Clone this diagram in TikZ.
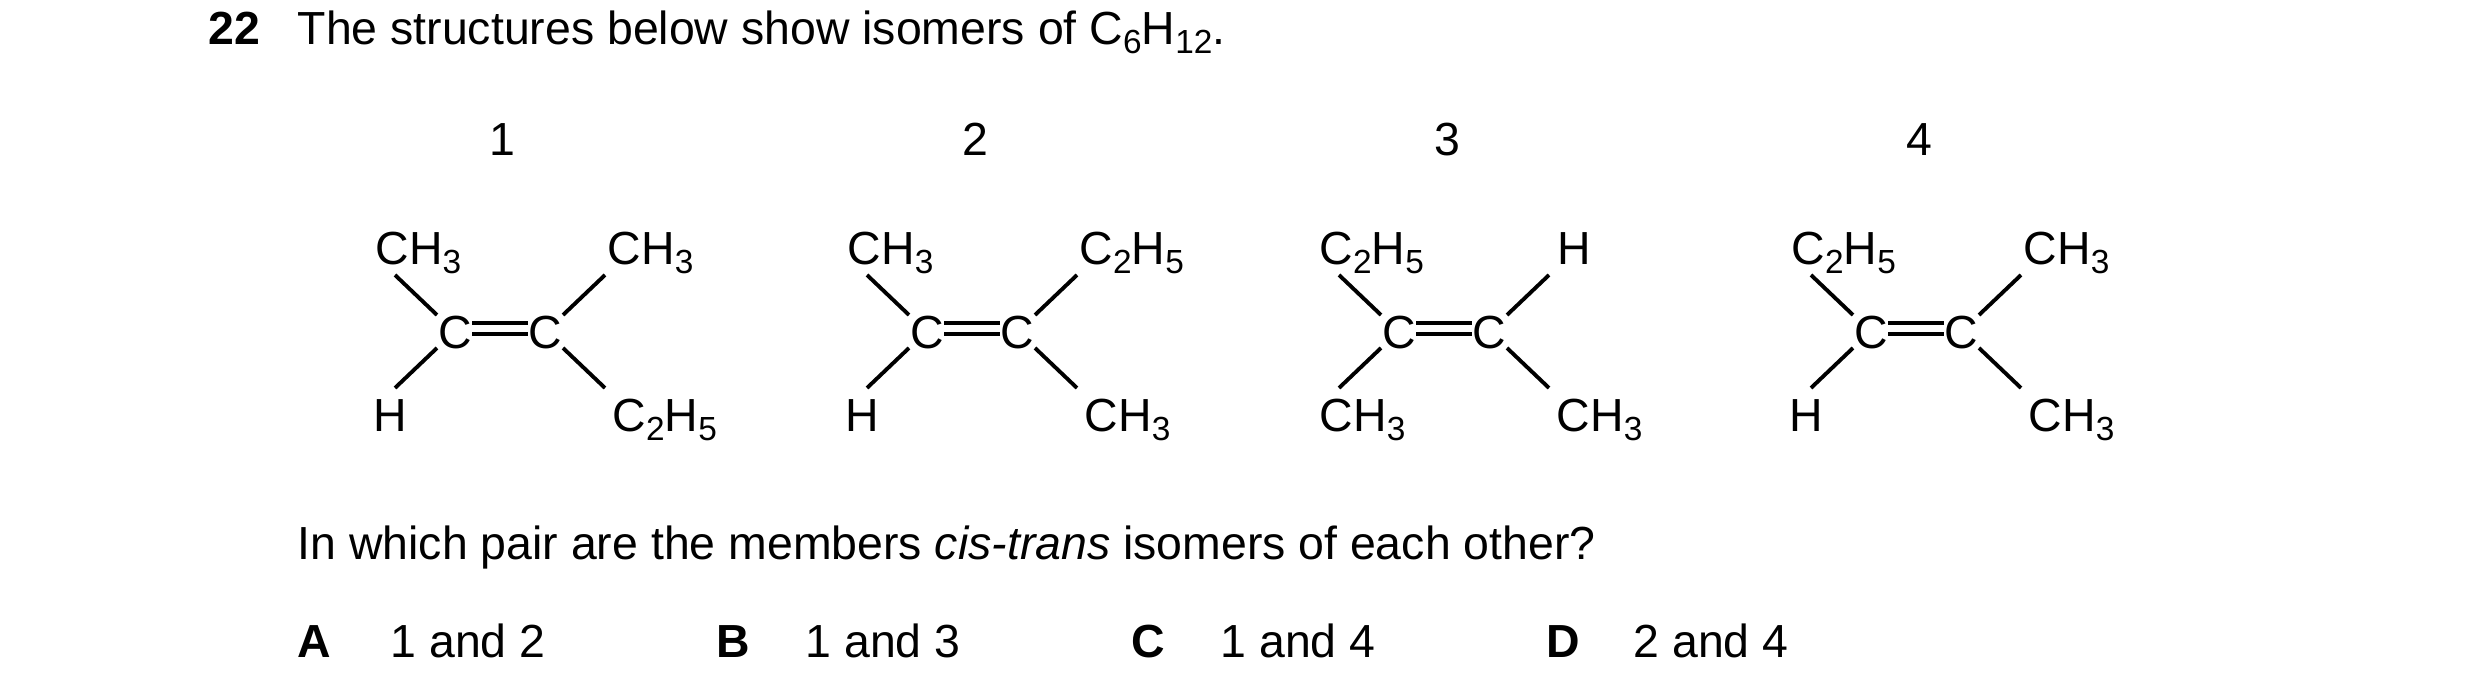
\documentclass[tikz,border=0pt]{standalone}
\usepackage{fontspec}
\setmainfont{Liberation Sans}
\newcommand{\sbs}[1]{\raisebox{-0.35ex}{\fontsize{9.5}{10}\selectfont #1}}
\newcommand{\CHiii}{CH\sbs{3}}
\newcommand{\CCH}{C\sbs{2}H\sbs{5}}
\newcommand{\molec}[6]{%
 \begin{scope}[shift={(#1,0)}]
  \node[atom] (#2cl) at (-45,332) {C};
  \node[atom] (#2cr) at (45,332) {C};
  \draw[bond] ([yshift=2.5pt]#2cl.east) -- ([yshift=2.5pt]#2cr.west);
  \draw[bond] ([yshift=-0.5pt]#2cl.east) -- ([yshift=-0.5pt]#2cr.west);
  \draw[bond] (-105,275) -- (-63,315);
  \draw[bond] (-105,388) -- (-63,348);
  \draw[bond] (105,275) -- (63,315);
  \draw[bond] (105,388) -- (63,348);
  #3 #4 #5 #6
 \end{scope}}
\newcommand{\LT}[1]{\node[lab,anchor=base west] at (-125,265) {#1};}
\newcommand{\LB}[1]{\node[lab,anchor=base west] at (-125,432) {#1};}
\newcommand{\LBH}{\node[lab,anchor=base] at (-110,432) {H};}
\newcommand{\RT}[1]{\node[lab,anchor=base west] at (107,265) {#1};}
\newcommand{\RTH}{\node[lab,anchor=base] at (130,265) {H};}
\newcommand{\RB}[1]{\node[lab,anchor=base west] at (112,432) {#1};}
\begin{document}
\begin{tikzpicture}[x=0.01cm,y=-0.01cm,
 txt/.style={inner sep=0pt,font=\fontsize{13.2}{16}\selectfont},
 lab/.style={txt},
 atom/.style={txt,text depth=0pt,anchor=center},
 bond/.style={line width=1.1pt,line cap=butt}]
\useasboundingbox (0,0) rectangle (2480,692);
\node[txt,anchor=base west] (num) at (208,45) {\textbf{22}};
\node[txt,anchor=base west] (title) at (297,45) {The structures below show isomers of C\sbs{6}H\sbs{12}.};
\node[txt,anchor=base] (n1) at (502,156) {1};
\node[txt,anchor=base] (n2) at (975,156) {2};
\node[txt,anchor=base] (n3) at (1447,156) {3};
\node[txt,anchor=base] (n4) at (1919,156) {4};
\molec{500}{a}{\LT{\CHiii}}{\LBH}{\RT{\CHiii}}{\RB{\CCH}}
\molec{972}{b}{\LT{\CHiii}}{\LBH}{\RT{\CCH}}{\RB{\CHiii}}
\molec{1444}{c}{\LT{\CCH}}{\LB{\CHiii}}{\RTH}{\RB{\CHiii}}
\molec{1916}{d}{\LT{\CCH}}{\LBH}{\RT{\CHiii}}{\RB{\CHiii}}
\node[txt,anchor=base west] (q) at (297,560) {In which pair are the members \textit{cis-trans} isomers of each other?};
\node[txt,anchor=base west] (A) at (297,658) {\textbf{A}};
\node[txt,anchor=base west] (a2) at (390,658) {1 and 2};
\node[txt,anchor=base west] (B) at (716,658) {\textbf{B}};
\node[txt,anchor=base west] (b2) at (805,658) {1 and 3};
\node[txt,anchor=base west] (C) at (1131,658) {\textbf{C}};
\node[txt,anchor=base west] (c2) at (1220,658) {1 and 4};
\node[txt,anchor=base west] (D) at (1546,658) {\textbf{D}};
\node[txt,anchor=base west] (d2) at (1633,658) {2 and 4};
\end{tikzpicture}
\end{document}
